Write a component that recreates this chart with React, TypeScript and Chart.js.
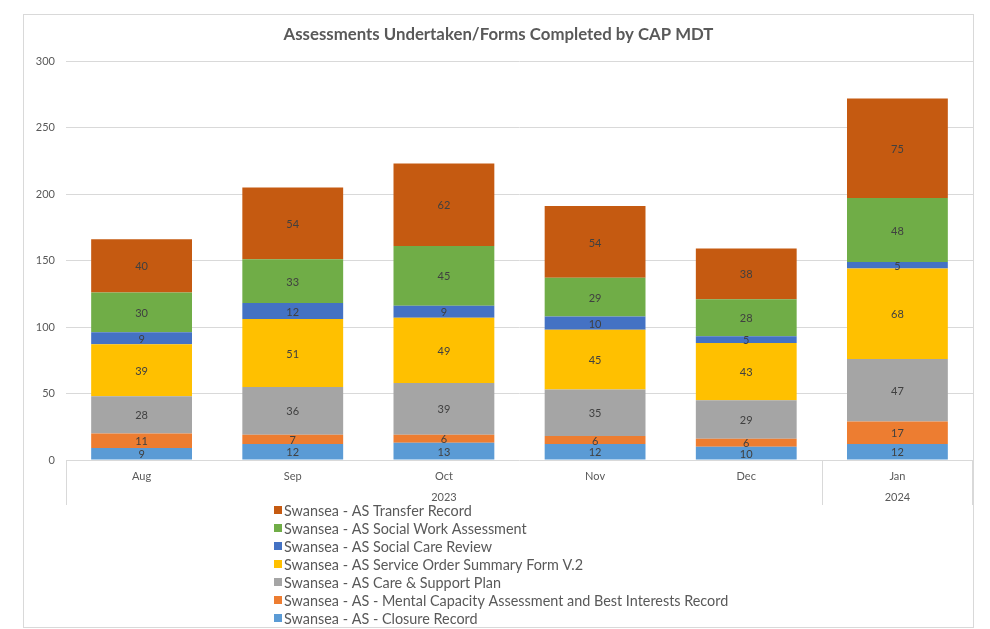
import React, { useEffect, useRef } from "react";
import { Chart, registerables } from "chart.js";

Chart.register(...registerables);

const months = ["Aug", "Sep", "Oct", "Nov", "Dec", "Jan"];
const yearGroups = [
  { label: "2023", from: 0, to: 4 },
  { label: "2024", from: 5, to: 5 },
];

const closureRecord = [9, 12, 13, 12, 10, 12];
const mentalCapacity = [11, 7, 6, 6, 6, 17];
const careSupportPlan = [28, 36, 39, 35, 29, 47];
const serviceOrder = [39, 51, 49, 45, 43, 68];
const socialCareReview = [9, 12, 9, 10, 5, 5];
const socialWorkAssessment = [30, 33, 45, 29, 28, 48];
const transferRecord = [40, 54, 62, 54, 38, 75];

const seriesLabels = [
  "Swansea - AS - Closure Record",
  "Swansea - AS - Mental Capacity Assessment and Best Interests Record",
  "Swansea - AS Care & Support Plan",
  "Swansea - AS Service Order Summary Form V.2",
  "Swansea - AS Social Care Review",
  "Swansea - AS Social Work Assessment",
  "Swansea - AS Transfer Record",
];
const seriesColors = ["#5B9BD5", "#ED7D31", "#A5A5A5", "#FFC000", "#4472C4", "#70AD47", "#C55A11"];
const seriesValues = [
  closureRecord,
  mentalCapacity,
  careSupportPlan,
  serviceOrder,
  socialCareReview,
  socialWorkAssessment,
  transferRecord,
];

const FONT = "Lato, 'Open Sans', sans-serif";
const TEXT = "#595959";
const GRID = "#d9d9d9";

const extrasPlugin = {
  id: "extras",
  afterDatasetsDraw(chart: any) {
    const ctx = chart.ctx;
    ctx.save();
    ctx.font = `11px ${FONT}`;
    ctx.fillStyle = "#404040";
    ctx.textAlign = "center";
    ctx.textBaseline = "middle";
    chart.data.datasets.forEach((ds: any, i: number) => {
      const meta = chart.getDatasetMeta(i);
      meta.data.forEach((bar: any, j: number) => {
        const v = ds.data[j];
        ctx.fillText(String(v), bar.x, (bar.y + bar.base) / 2 + 1);
      });
    });
    ctx.restore();
  },
  afterDraw(chart: any) {
    const ctx = chart.ctx;
    const xs = chart.scales.x;
    const area = chart.chartArea;
    const half = (xs.getPixelForValue(1) - xs.getPixelForValue(0)) / 2;
    ctx.save();
    ctx.strokeStyle = GRID;
    ctx.lineWidth = 1;
    const bottom = area.bottom + 45;
    const edges = new Set<number>();
    yearGroups.forEach((g) => {
      edges.add(Math.round(xs.getPixelForValue(g.from) - half));
      edges.add(Math.round(xs.getPixelForValue(g.to) + half));
    });
    edges.forEach((x) => {
      const px = Math.min(x, chart.width - 1) + 0.5;
      ctx.beginPath();
      ctx.moveTo(px, area.bottom);
      ctx.lineTo(px, bottom);
      ctx.stroke();
    });
    ctx.font = `11px ${FONT}`;
    ctx.fillStyle = TEXT;
    ctx.textAlign = "center";
    ctx.textBaseline = "middle";
    yearGroups.forEach((g) => {
      const cx = (xs.getPixelForValue(g.from) + xs.getPixelForValue(g.to)) / 2;
      ctx.fillText(g.label, cx, area.bottom + 37);
    });
    ctx.font = `14.4px ${FONT}`;
    ctx.textAlign = "left";
    const n = chart.data.datasets.length;
    for (let k = 0; k < n; k++) {
      const ds = chart.data.datasets[n - 1 - k];
      const y = 495 + k * 18;
      ctx.fillStyle = ds.backgroundColor;
      ctx.fillRect(250, y - 4, 8, 8);
      ctx.fillStyle = TEXT;
      ctx.fillText(ds.label, 260, y + 1);
    }
    ctx.restore();
  },
};

export default function App() {
  const ref = useRef<HTMLCanvasElement>(null);
  useEffect(() => {
    if (!ref.current) return;
    const chart = new Chart(ref.current, {
      type: "bar",
      data: {
        labels: months,
        datasets: seriesValues.map((vals, i) => ({
          label: seriesLabels[i],
          data: vals,
          backgroundColor: seriesColors[i],
          borderWidth: 0,
          categoryPercentage: 1,
          barPercentage: 0.667,
        })),
      },
      options: {
        animation: false,
        responsive: false,
        devicePixelRatio: 1,
        layout: { padding: { left: 0, right: 0, top: 0, bottom: 0 } },
        plugins: {
          legend: { display: false },
          tooltip: { enabled: false },
          title: {
            display: true,
            text: "Assessments Undertaken/Forms Completed by CAP MDT",
            color: TEXT,
            font: { family: FONT, size: 16.8, weight: "bold" },
            padding: { top: 10, bottom: 16 },
          },
        },
        scales: {
          x: {
            stacked: true,
            grid: { display: false },
            border: { display: false },
            ticks: { color: TEXT, font: { family: FONT, size: 11 }, padding: 2, maxRotation: 0 },
            afterFit: (s: any) => {
              s.height = 167;
            },
          },
          y: {
            stacked: true,
            min: 0,
            max: 300,
            ticks: { stepSize: 50, color: TEXT, font: { family: FONT, size: 11 }, padding: 11 },
            grid: { color: GRID, drawTicks: false },
            border: { display: false },
            afterFit: (s: any) => {
              s.width = 42;
            },
          },
        },
      },
      plugins: [extrasPlugin],
    });
    return () => chart.destroy();
  }, []);
  return (
    <div
      style={{
        position: "absolute",
        left: 23,
        top: 14,
        width: 951,
        height: 614,
        border: "1px solid #d9d9d9",
        boxSizing: "border-box",
        background: "#fff",
      }}
    >
      <canvas ref={ref} width={949} height={612} style={{ display: "block" }} />
    </div>
  );
}
